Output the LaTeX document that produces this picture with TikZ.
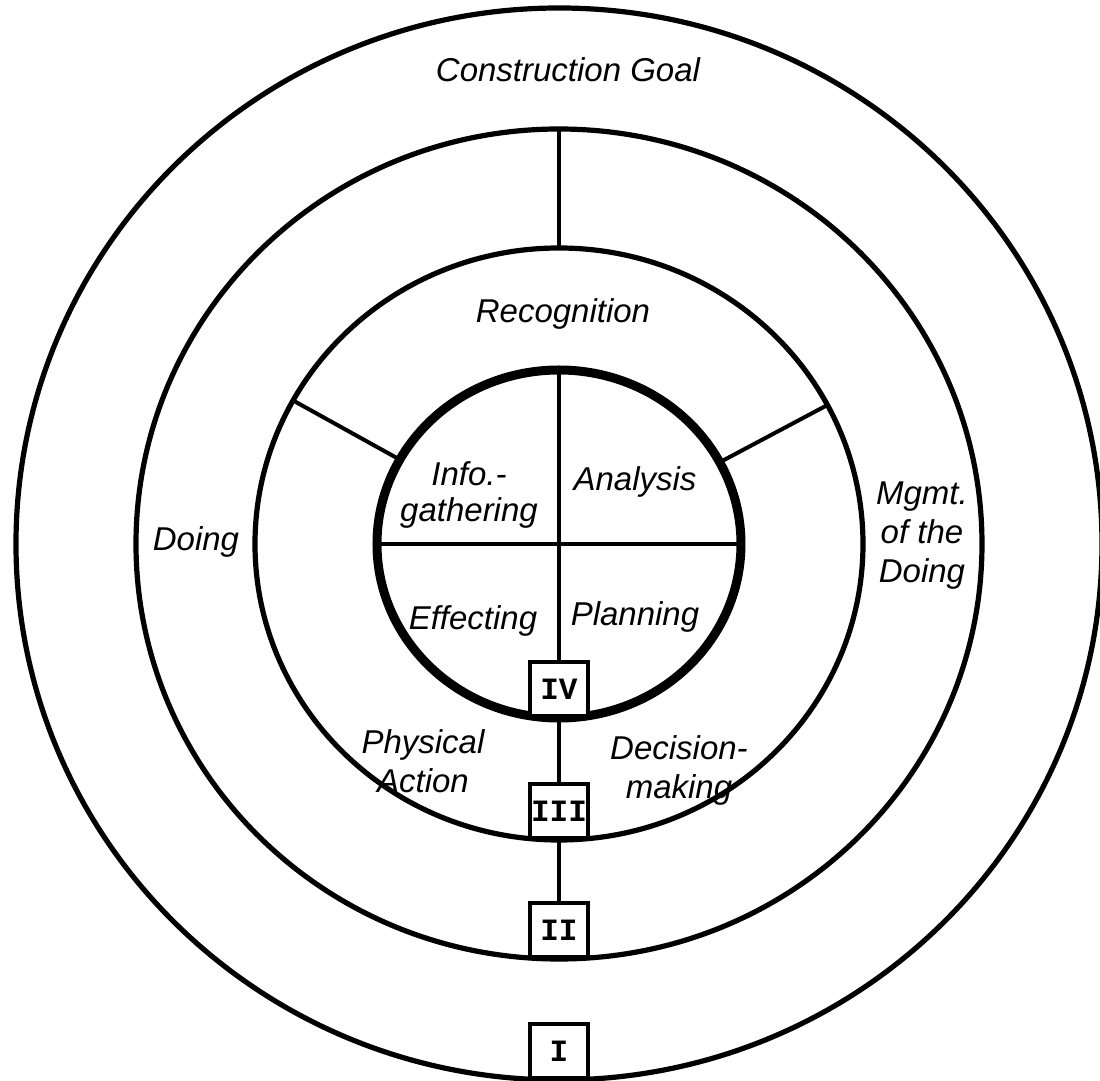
\documentclass[tikz,border=0pt]{standalone}
\usepackage{fontspec}
\setmainfont{Liberation Sans}
\setmonofont{Liberation Mono}
\usetikzlibrary{positioning}

\begin{document}
\begin{tikzpicture}[x=0.5pt, y=0.5pt,
	ring/.style={draw, line width=2.6pt},
	core/.style={draw, line width=4.5pt},
	spoke/.style={line width=2pt},
	ringtext/.style={font=\fontsize{16.5}{19.5}\selectfont\itshape, align=center, inner sep=0pt},
	levelbox/.style={draw, line width=2pt, fill=white, minimum width=29pt, minimum height=27pt, inner sep=0pt, font=\fontsize{15.5}{15.5}\selectfont\ttfamily\bfseries}]
							% Fix the page to the size of the figure
							\path[use as bounding box] (-559,-537) rectangle (541,544);
							\clip (-559,-537) rectangle (541,544);
							\coordinate (c) at (0,0);
						
							% Draw the three outer rings
							\foreach \xr/\yr/\name in {543/536/one, 423/415/two, 304/296/three} {
								\draw[ring] (c) ellipse [x radius=\xr, y radius=\yr];
								\coordinate (\name-top) at (0,\yr);
								\coordinate (\name-bot) at (0,-\yr);
							}
							% Draw the thick core
							\draw[core] (c) ellipse [x radius=182, y radius=174];
							\coordinate (four-top) at (0,174);
							\coordinate (four-bot) at (0,-174);
						
							% Spokes between the rings
							\coordinate (three-left) at (151:304 and 296);
							\coordinate (four-left) at (151:182 and 174);
							\coordinate (three-right) at (28:304 and 296);
							\coordinate (four-right) at (28:182 and 174);
							\coordinate (four-west) at (180:182 and 174);
							\coordinate (four-east) at (0:182 and 174);
							\draw[spoke] (two-top) -- (three-top);
							\draw[spoke] (three-left) -- (four-left);
							\draw[spoke] (three-right) -- (four-right);
							\draw[spoke] (four-west) -- (four-east);
						
							% Level boxes sitting on the bottom of each ring
							\node[levelbox, above=0pt of four-bot] (boxIV) {IV};
							\node[levelbox, above=0pt of three-bot] (boxIII) {III};
							\node[levelbox, above=0pt of two-bot] (boxII) {II};
							\node[levelbox, above=0pt of one-bot] (boxI) {I};
							\draw[spoke] (four-top) -- (boxIV);
							\draw[spoke] (boxIV) -- (boxIII);
							\draw[spoke] (boxIII) -- (boxII);
						
							% Labels of the rings
							\node[ringtext] (goal) at (9,474) {Construction Goal};
							\node[ringtext] (recog) at (4,230) {Recognition};
							\node[ringtext] (doing) at (-363,2) {Doing};
							\node[ringtext] (mgmt) at (363,8) {Mgmt.\\of the\\Doing};
							\node[ringtext, font=\fontsize{16.5}{18}\selectfont\itshape] (info) at (-90,49) {Info.-\\gathering};
							\node[ringtext] (anal) at (76,62) {Analysis};
							\node[ringtext] (effect) at (-86,-77) {Effecting};
							\node[ringtext] (plan) at (76,-73) {Planning};
							\node[ringtext] (phys) at (-136,-217) {Physical\\Action};
							\node[ringtext] (decide) at (120,-226) {Decision-\\making};
						\end{tikzpicture}
\end{document}
